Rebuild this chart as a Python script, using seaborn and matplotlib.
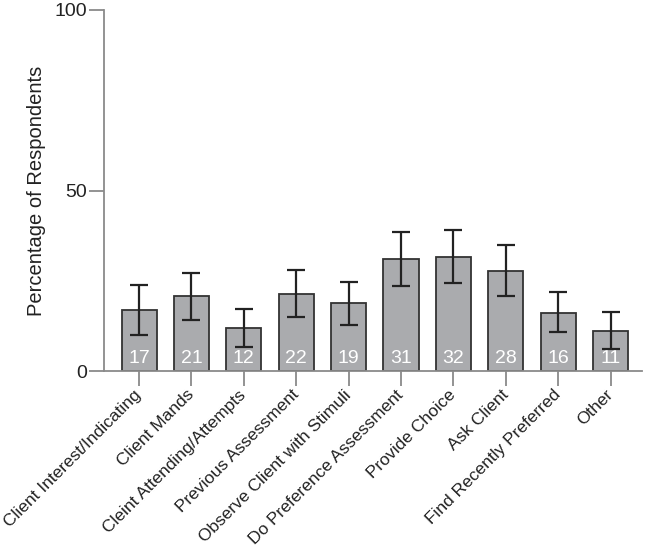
import numpy as np
import pandas as pd
import matplotlib
matplotlib.use("Agg")
import matplotlib.pyplot as plt
import seaborn as sns

# Categories and values
categories = [
    "Client Interest/Indicating", "Client Mands", "Cleint Attending/Attempts",
    "Previous Assessment", "Observe Client with Stimuli", "Do Preference Assessment",
    "Provide Choice", "Ask Client", "Find Recently Preferred", "Other",
]
percent = [16.8, 20.8, 11.8, 21.3, 18.7, 30.9, 31.6, 27.8, 16.1, 11.2]
ci_low = [10.1, 14.2, 6.7, 15.0, 12.8, 23.6, 24.3, 20.8, 10.7, 6.2]
ci_high = [23.8, 27.2, 17.1, 27.9, 24.7, 38.4, 39.1, 35.0, 21.9, 16.3]
bar_labels = ["17", "21", "12", "22", "19", "31", "32", "28", "16", "11"]
y_ticks = [0, 50, 100]

sns.set_style("ticks")
plt.rcParams["font.family"] = ["Liberation Sans", "DejaVu Sans"]

df = pd.DataFrame({"category": categories, "percent": percent})

fig = plt.figure(figsize=(6.45, 5.52), dpi=100)
ax = fig.add_axes([104 / 645, 1 - 371 / 552, (642 - 104) / 645, (371 - 10) / 552])

sns.barplot(data=df, x="category", y="percent", color="#aaabae",
            edgecolor="#333333", linewidth=1.3, width=0.67,
            saturation=1, errorbar=None, ax=ax)

# asymmetric error bars
pos = np.arange(len(categories))
err = [np.array(percent) - np.array(ci_low), np.array(ci_high) - np.array(percent)]
ax.errorbar(pos, percent, yerr=err, fmt="none", ecolor="#222222",
            elinewidth=1.6, capsize=6.5, capthick=1.6, zorder=5)

# white count labels at bar bottoms
for i, lab in enumerate(bar_labels):
    ax.text(i, 3.4, lab, color="white", ha="center", va="center", fontsize=14)

ax.set_ylim(0, 100)
ax.set_xlim(-0.67, 9.6)
ax.set_yticks(y_ticks)
ax.set_ylabel("Percentage of Respondents", fontsize=14.5, color="#222222", labelpad=6)
ax.set_xlabel("")

ax.set_xticks(pos)
ax.set_xticklabels(categories, rotation=45, ha="right", va="center",
                   rotation_mode="anchor", fontsize=12.5, color="#222222")
ax.tick_params(axis="both", length=10.5, width=1.3, color="#8a8a8a", pad=2)
ax.tick_params(axis="x", pad=5)
ax.tick_params(axis="y", labelsize=14, labelcolor="#222222")

sns.despine(ax=ax)
for side in ["left", "bottom"]:
    ax.spines[side].set_color("#8a8a8a")
    ax.spines[side].set_linewidth(1.3)

fig.savefig("out.png", dpi=100)
